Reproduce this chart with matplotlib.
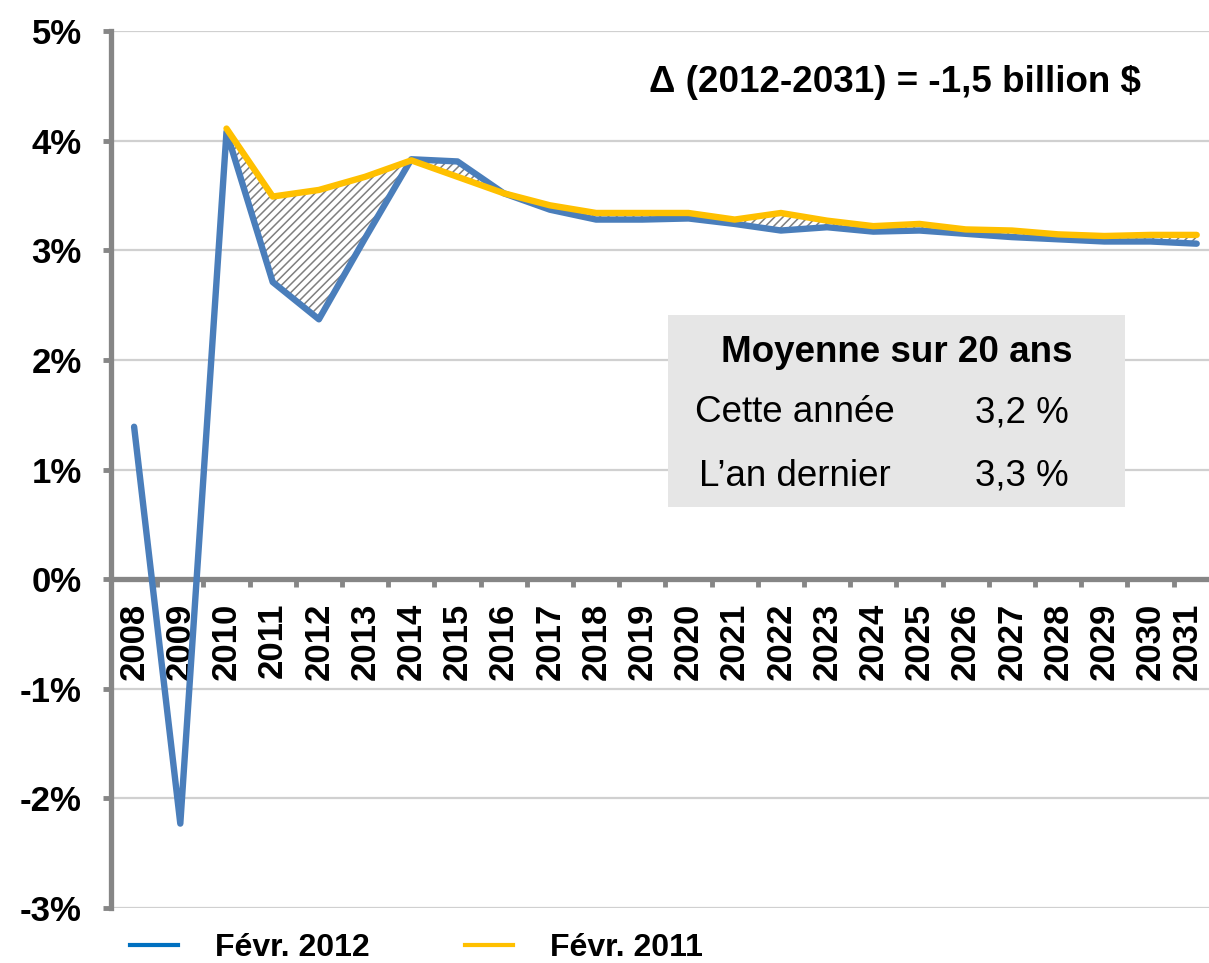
import numpy as np
import matplotlib
matplotlib.use("Agg")
import matplotlib.pyplot as plt
from matplotlib.lines import Line2D
from matplotlib.patches import Rectangle
from matplotlib.transforms import ScaledTranslation

plt.rcParams['font.family'] = ['Liberation Sans', 'DejaVu Sans']
plt.rcParams['hatch.linewidth'] = 1.1

years = [str(y) for y in range(2008, 2032)]
fevr_2012 = [1.39, -2.23, 4.08, 2.71, 2.37, 3.11, 3.83, 3.81, 3.52, 3.37, 3.28, 3.28,
             3.29, 3.24, 3.18, 3.21, 3.17, 3.18, 3.15, 3.12, 3.10, 3.08, 3.08, 3.06]
fevr_2011 = [np.nan, np.nan, 4.11, 3.49, 3.55, 3.67, 3.82, 3.67, 3.52, 3.41, 3.34, 3.34,
             3.34, 3.28, 3.34, 3.27, 3.22, 3.24, 3.19, 3.18, 3.145, 3.13, 3.14, 3.14]
series_labels = ["Févr. 2012", "Févr. 2011"]
yticks = [-3, -2, -1, 0, 1, 2, 3, 4, 5]
annotation = "Δ (2012-2031) = -1,5 billion $"
box_title = "Moyenne sur 20 ans"
box_rows = [("Cette année", "3,2 %"), ("L\u2019an dernier", "3,3 %")]

W, H = 1209, 963
fig = plt.figure(figsize=(W / 100, H / 100), dpi=100)

def fx(px):
    return px / W

def fy(py):
    return 1 - py / H

left_px, right_px, top_px, bot_px = 111, 1209, 31, 908
ax = fig.add_axes([fx(left_px), fy(bot_px), fx(right_px - left_px), (bot_px - top_px) / H])

x = np.arange(len(years))
blue = np.array(fevr_2012)
yellow = np.array(fevr_2011)

BLUE = "#4A7EBB"
YELLOW = "#FFC000"
GRAY = "#868686"

ax.set_xlim(-0.5, -0.5 + (right_px - left_px) / 46.2)
ax.set_ylim(-3, 5)

mask = ~np.isnan(yellow)
ax.fill_between(x[mask], blue[mask], yellow[mask], facecolor="white", edgecolor="#7F7F7F",
                hatch="////", linewidth=0, zorder=2)
ax.plot(x, blue, color=BLUE, lw=4.6, solid_joinstyle="round", solid_capstyle="round", zorder=3)
ax.plot(x[mask], yellow[mask], color=YELLOW, lw=4.6, solid_joinstyle="round",
        solid_capstyle="round", zorder=4)

# grid
ax.set_yticks(yticks)
ax.set_yticklabels([f"{v}%" for v in yticks], fontsize=25, fontweight="bold")
ax.yaxis.grid(True, color="#D0D0D0", lw=1.6)
ax.set_axisbelow(True)
for s in ["top", "right"]:
    ax.spines[s].set_visible(False)
ax.spines["left"].set_color(GRAY)
ax.spines["left"].set_linewidth(3.8)
ax.spines["bottom"].set_position(("data", 0))
ax.spines["bottom"].set_color(GRAY)
ax.spines["bottom"].set_linewidth(3.8)
ax.spines["bottom"].set_zorder(1)
ax.tick_params(axis="y", direction="out", length=6, width=3.5, color=GRAY, pad=15)

ax.set_xticks(x)
ax.set_xticklabels(years, rotation=90, fontsize=25, fontweight="bold")
ax.set_xticks(np.arange(0.5, len(years) - 0.5, 1.0), minor=True)
ax.tick_params(axis="x", which="major", length=0, pad=17)
ax.tick_params(axis="x", which="minor", direction="out", length=6, width=3.5, color=GRAY)
last_tick = ax.xaxis.get_major_ticks()[-1]
last_tick.label1.set_transform(last_tick.label1.get_transform()
                               + ScaledTranslation(-7 / 72, 0, fig.dpi_scale_trans))

# annotation
fig.text(fx(895), fy(83), annotation, fontsize=26.5, fontweight="bold", ha="center", va="center")

# box
box = Rectangle((fx(668), fy(507)), fx(1125 - 668), (507 - 315) / H, transform=fig.transFigure,
                facecolor="#E6E6E6", edgecolor="none", zorder=5)
fig.patches.append(box)
fig.text(fx(897), fy(352), box_title, fontsize=26.5, fontweight="bold", ha="center", va="center", zorder=6)
for i, (lab, val) in enumerate(box_rows):
    yy = 413 + i * 63
    fig.text(fx(795), fy(yy), lab, fontsize=26.5, ha="center", va="center", zorder=6)
    fig.text(fx(1022), fy(yy), val, fontsize=26.5, ha="center", va="center", zorder=6)

# legend
leg_colors = ["#0070C0", YELLOW]
leg_line_x = [(130, 178), (465, 513)]
leg_text_x = [215, 550]
for c, (x0, x1), tx, lab in zip(leg_colors, leg_line_x, leg_text_x, series_labels):
    fig.lines.append(Line2D([fx(x0), fx(x1)], [fy(945), fy(945)], transform=fig.transFigure,
                            color=c, lw=3))
    fig.text(fx(tx), fy(948), lab, fontsize=23, fontweight="bold", ha="left", va="center")

fig.savefig("out.png", dpi=100)
